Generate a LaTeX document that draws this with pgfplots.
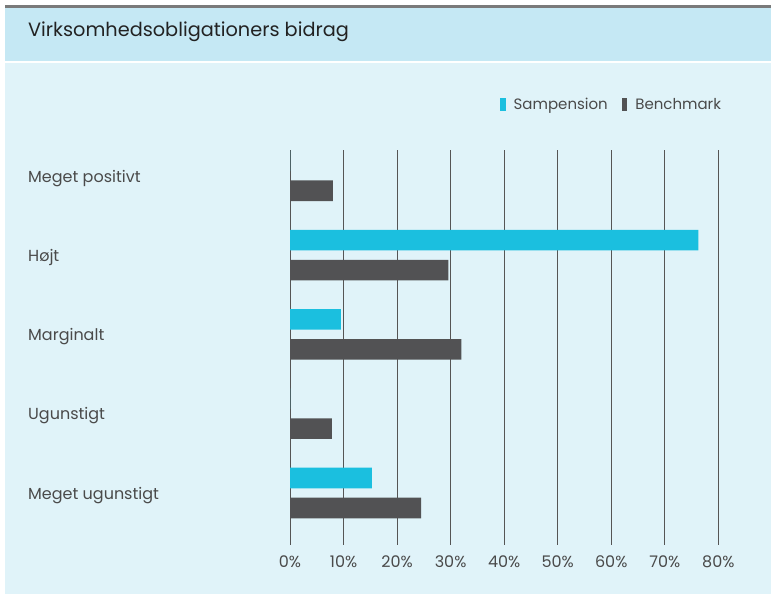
\documentclass[border=0pt]{standalone}
\usepackage{pgfplots}
\pgfplotsset{compat=1.18}
\usepackage{fontspec}
\setmainfont{Poppins}
\definecolor{band}{HTML}{C5E8F4}
\definecolor{bodybg}{HTML}{E0F3F9}
\definecolor{samp}{HTML}{1BBFDF}
\definecolor{bench}{HTML}{525254}
\definecolor{gridc}{HTML}{555555}
\definecolor{txt}{HTML}{4A4A4A}
\definecolor{titlec}{HTML}{222222}
\definecolor{topline}{HTML}{7A7A7A}

\pgfplotstableread{
y samp bench
4 0 8.0
3 76.3 29.6
2 9.5 32.0
1 0 7.8
0 15.3 24.5
}\datatable

\begin{document}
\begin{tikzpicture}[x=1pt,y=1pt]
\fill[white] (0,0) rectangle (771,594);
\fill[bodybg] (5,0) rectangle (771,531);
\fill[band] (5,533) rectangle (771,586);
\fill[topline] (5,586) rectangle (771,588.5);
\node[anchor=base west, inner sep=0pt, text=titlec] at (28,557.5) {\fontsize{19.3}{22}\selectfont Virksomhedsobligationers bidrag};

\begin{axis}[
  at={(290pt,49pt)}, anchor=south west,
  scale only axis, width=428.3pt, height=395pt,
  xmin=0, xmax=80, ymin=-0.656, ymax=4.325,
  xbar, bar width=20.6pt,
  axis line style={draw=none},
  major tick length=0pt,
  xtick={0,10,...,80},
  xticklabel={\pgfmathprintnumber{\tick}\%},
  /pgf/number format/assume math mode=true,
  xticklabel style={anchor=base, yshift=-22.5pt, text=txt, font=\fontsize{16}{19}\selectfont},
  xmajorgrids, grid style={gridc, line width=1pt},
  ytick={0,1,2,3,4},
  yticklabels={Meget ugunstigt, Ugunstigt, Marginalt, Højt, Meget positivt},
  yticklabel style={anchor=base west, inner sep=0pt, xshift=-262pt, yshift=-6.3pt, text=txt, font=\fontsize{16}{19}\selectfont},
  legend columns=2,
  legend style={at={(0.4903,1.114)}, anchor=west, draw=none, fill=none, inner sep=0pt,
    nodes={inner sep=0pt, text=txt, font=\fontsize{15}{18}\selectfont},
    column sep=8pt, /tikz/every even column/.append style={column sep=14pt}},
  legend image code/.code={\fill[#1] (0pt,-6.5pt) rectangle (5.5pt,6.5pt);},
]
\addplot[fill=samp, draw=none, bar shift=15pt] table[x=samp, y=y] {\datatable};
\addplot[fill=bench, draw=none, bar shift=-15pt] table[x=bench, y=y] {\datatable};
\legend{Sampension, Benchmark}
\end{axis}
\end{tikzpicture}
\end{document}
